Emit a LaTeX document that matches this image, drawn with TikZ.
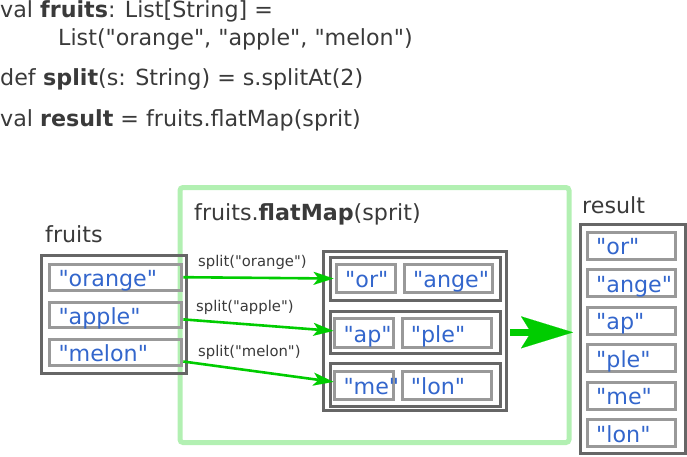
\documentclass[tikz,border=0pt]{standalone}
\usepackage{fontspec}
\setmainfont{DejaVu Sans}[Ligatures=TeXOff]
\usetikzlibrary{arrows.meta}
\definecolor{txt}{HTML}{3A3A3A}
\definecolor{strblue}{HTML}{3366CC}
\definecolor{lightg}{RGB}{178,240,178}
\definecolor{brightg}{RGB}{0,204,0}
\definecolor{darkbox}{HTML}{666666}
\definecolor{lightbox}{HTML}{999999}
\newcommand{\bx}[6]{\node[#6, minimum width={(#4)-(#2)}, minimum height={(#5)-(#3)}] (#1) at ({((#2)+(#4))/2},{((#3)+(#5))/2}) {};}
\newcommand{\st}[2]{\node[btext, anchor=base west] (#1-t) at ([xshift=10pt,yshift=-9pt]#1.west) {#2};}
\tikzset{
  code/.style={font=\fontsize{22.2}{26}\selectfont, text=txt, inner sep=0pt, anchor=base west},
  small/.style={font=\fontsize{14.8}{17}\selectfont, text=txt, inner sep=0pt, anchor=base west},
  btext/.style={font=\fontsize{22.2}{26}\selectfont, text=strblue, inner sep=0pt},
  obox/.style={draw=darkbox, line width=3pt, inner sep=0pt},
  ibox/.style={draw=lightbox, line width=3pt, inner sep=0pt},
  gbox/.style={draw=lightg, line width=5pt, inner sep=0pt, rounded corners=3pt},
  splitarrow/.style={draw=brightg, line width=2.6pt, -{Stealth[length=20pt,width=13pt,inset=5pt,line width=0.01pt]}},
  bigarrow/.style={draw=brightg, line width=6.5pt, -{Stealth[length=52pt,width=32pt,inset=10pt,line width=0.01pt]}}
}
\begin{document}
\begin{tikzpicture}[x=1pt,y=-1pt]
\useasboundingbox (0,0) rectangle (687,456);
% code
\node[code] (l1) at (0,17) {val \textbf{fruits}: List[String] =};
\node[code] (l2) at (58,45) {List("orange", "apple", "melon")};
\node[code] (l3) at (0,85) {def \textbf{split}(s: String) = s.splitAt(2)};
\node[code] (l4) at (0,126) {val \textbf{result} = fruits.flatMap(sprit)};
% flatMap container
\bx{fm}{180}{187.5}{569}{442.5}{gbox}
\node[code] (title) at (194,220) {fruits.\textbf{flatMap}(sprit)};
% fruits
\node[code] (fl) at (45,242) {fruits};
\bx{fruits}{41.5}{255.5}{186.2}{373.5}{obox}
\bx{orange}{49.8}{264.2}{181.8}{290.2}{ibox}\st{orange}{"orange"}
\bx{apple}{49.8}{302.2}{181.8}{327.8}{ibox}\st{apple}{"apple"}
\bx{melon}{49.8}{339.8}{181.8}{365.2}{ibox}\st{melon}{"melon"}
% middle
\bx{mid}{323.2}{251.5}{506.2}{410.8}{obox}
\bx{g1}{330.5}{257.5}{500.2}{300.2}{obox}
\bx{g2}{330.5}{311.5}{500.2}{353.5}{obox}
\bx{g3}{330.5}{363.8}{500.2}{406.8}{obox}
\bx{or}{336.5}{264.5}{395.5}{292.5}{ibox}\st{or}{"or"}
\bx{ange}{404.5}{264.5}{492.5}{292.5}{ibox}\st{ange}{"ange"}
\bx{ap}{334.8}{318.8}{393.5}{347.5}{ibox}\st{ap}{"ap"}
\bx{ple}{402.2}{318.8}{491.2}{347.5}{ibox}\st{ple}{"ple"}
\bx{me}{334.8}{371.5}{393.5}{399.2}{ibox}\st{me}{"me"}
\bx{lon}{402.2}{371.5}{491.2}{399.2}{ibox}\st{lon}{"lon"}
% result
\node[code] (rl) at (582,213) {result};
\bx{res}{580.8}{224.2}{685.2}{453.5}{obox}
\bx{r1}{587.5}{232.2}{675.8}{259.5}{ibox}\st{r1}{"or"}
\bx{r2}{587.5}{269.8}{675.8}{296.8}{ibox}\st{r2}{"ange"}
\bx{r3}{587.5}{307.2}{675.8}{334.5}{ibox}\st{r3}{"ap"}
\bx{r4}{587.5}{344.8}{675.8}{371.8}{ibox}\st{r4}{"ple"}
\bx{r5}{587.5}{382.2}{675.8}{409.2}{ibox}\st{r5}{"me"}
\bx{r6}{587.5}{419.2}{675.8}{446.8}{ibox}\st{r6}{"lon"}
% split arrows
\draw[splitarrow] (orange.east) -- ([xshift=-1.5pt]or.west);
\draw[splitarrow] ([yshift=-4.4pt]apple.east) -- ([yshift=2.3pt]ap.west);
\draw[splitarrow] ([yshift=-9pt]melon.east) -- ([yshift=3.5pt]me.west);
\node[small] (s1) at (198,266) {split("orange")};
\node[small] (s2) at (196,311.7) {split("apple")};
\node[small] (s3) at (198,356) {split("melon")};
% big arrow
\draw[bigarrow, shorten <=2.3pt, shorten >=6.3pt] ([yshift=-1.2pt]mid.east) -- ([yshift=-1.2pt]mid.east -| res.west);
\end{tikzpicture}
\end{document}
